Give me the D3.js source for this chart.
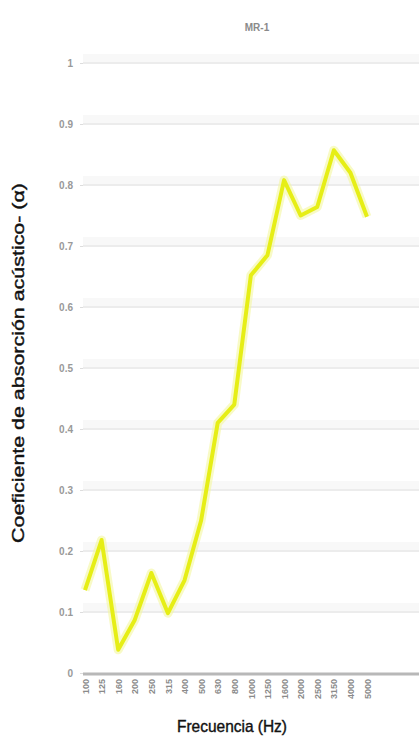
<!DOCTYPE html>
<html><head><meta charset="utf-8">
<script src="https://cdn.jsdelivr.net/npm/d3@7"></script>
<style>body{margin:0;background:#fff;}svg{display:block;}</style>
</head><body>
<svg id="c" width="419" height="737"></svg>
<script>
const frequencies = ["100","125","160","200","250","315","400","500","630","800","1000","1250","1600","2000","2500","3150","4000","5000"];
const absorption = [0.136,0.218,0.038,0.087,0.164,0.098,0.152,0.25,0.41,0.44,0.652,0.685,0.808,0.75,0.764,0.857,0.82,0.748];
const yTicks = [0,0.1,0.2,0.3,0.4,0.5,0.6,0.7,0.8,0.9,1];
const seriesName = "MR-1";

(function(){
const svg = d3.select("#c");
const mLeft = 83, mRight = 419, mTop = 63, mBottom = 673;
const font = "Liberation Sans Narrow, Liberation Sans, Arial, sans-serif";
const x = d3.scalePoint().domain(frequencies).range([85, 367]);
const y = d3.scaleLinear().domain([0,1]).range([mBottom, mTop]);

// gridlines
const g = svg.append("g");
g.selectAll("rect.band").data(yTicks.slice(1)).join("rect")
  .attr("x", mLeft).attr("width", mRight-mLeft)
  .attr("y", d=>y(d)-9).attr("height", 9).attr("fill", "#f8f8f8");
g.selectAll("line.grid").data(yTicks.slice(1)).join("line")
  .attr("x1", mLeft).attr("x2", mRight)
  .attr("y1", d=>y(d)).attr("y2", d=>y(d))
  .attr("stroke", "#ececec").attr("stroke-width", 2);

// y axis
const yAxis = svg.append("g").attr("transform", `translate(${mLeft},0)`)
  .call(d3.axisLeft(y).tickValues(yTicks).tickFormat(d=>d===0||d===1?String(d):d3.format(".1f")(d)).tickSize(3).tickPadding(7));
yAxis.select(".domain").remove();
yAxis.selectAll("line").attr("stroke", "#ddd");
yAxis.selectAll("text").attr("fill", "#999").attr("font-size", 10).attr("font-family", font).attr("font-weight","bold");

// x axis
const xAxis = svg.append("g").attr("transform", `translate(0,${mBottom})`)
  .call(d3.axisBottom(x).tickSize(0).tickPadding(0));
xAxis.select(".domain").remove();
svg.append("line").attr("x1", mLeft).attr("x2", mRight).attr("y1", mBottom+1).attr("y2", mBottom+1)
  .attr("stroke", "#b8b8b8").attr("stroke-width", 3);
xAxis.selectAll("text")
  .attr("transform", "translate(0,6) rotate(-90)")
  .attr("text-anchor", "end").attr("dy", "0.35em").attr("dx", 0)
  .attr("fill", "#8a8a8a").attr("font-size", 9).attr("font-weight","bold")
  .attr("font-family", font);

// line
const line = d3.line().x((d,i)=>x(frequencies[i])).y(d=>y(d));
svg.append("path").datum(absorption).attr("d", line)
  .attr("fill","none").attr("stroke","#f4f7a0").attr("stroke-width",9).attr("stroke-linejoin","round").attr("opacity",0.6);
svg.append("path").datum(absorption).attr("d", line)
  .attr("fill","none").attr("stroke","#e6ee16").attr("stroke-width",4).attr("stroke-linejoin","round");

// title / legend
svg.append("text").attr("x", 257).attr("y", 31).attr("text-anchor","middle")
  .attr("font-size", 10).attr("font-weight","bold").attr("fill","#8a8a8a")
  .attr("font-family",font).text(seriesName);

// axis titles
svg.append("text").attr("transform", "translate(24,363) rotate(-90)")
  .attr("text-anchor","middle").attr("font-size", 17)
  .attr("font-family",font)
  .attr("fill","#111").attr("stroke","#111").attr("stroke-width",0.4)
  .attr("textLength", 360).attr("lengthAdjust","spacingAndGlyphs")
  .text("Coeficiente de absorción acústico- (α)");
svg.append("text").attr("x", 232).attr("y", 732)
  .attr("text-anchor","middle").attr("font-size", 17)
  .attr("font-family",font)
  .attr("fill","#111").attr("stroke","#111").attr("stroke-width",0.4)
  .attr("textLength", 110).attr("lengthAdjust","spacingAndGlyphs")
  .text("Frecuencia (Hz)");
})();
</script>
</body></html>
